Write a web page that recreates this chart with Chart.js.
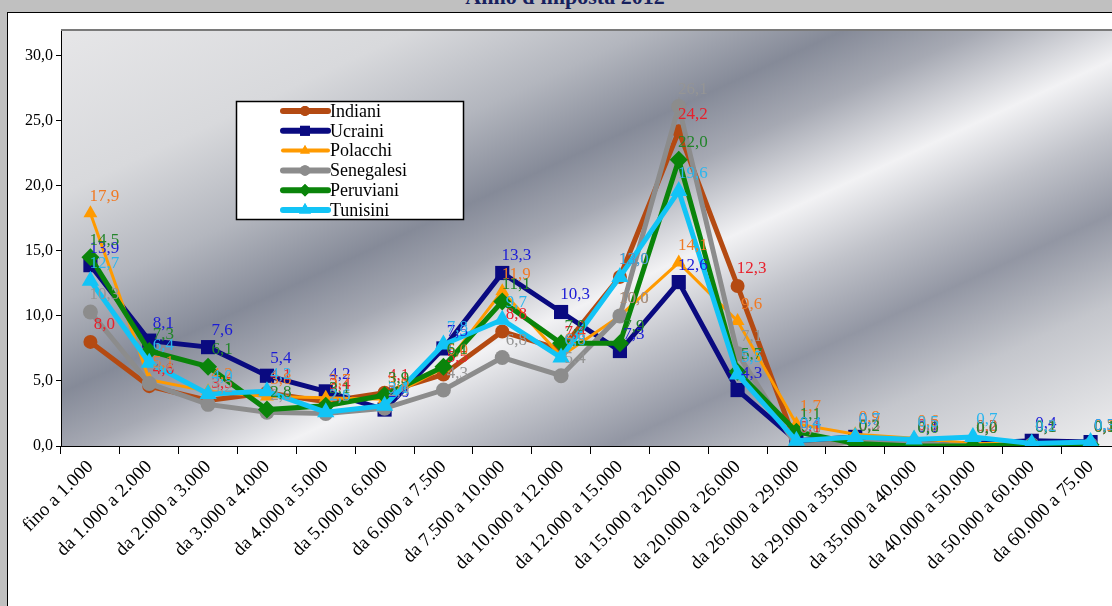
<!DOCTYPE html>
<html>
<head>
<meta charset="utf-8">
<script src="https://cdn.jsdelivr.net/npm/chart.js@4"></script>
<style>
  html, body { margin: 0; padding: 0; width: 1112px; height: 606px; overflow: hidden; background: #c0c0c0; }
  #title { position: absolute; left: 0; top: -14px; width: 1130px; text-align: center;
           font: bold 22px "Liberation Serif", serif; color: #17215e; line-height: 22px; }
  #frame { position: absolute; left: 7px; top: 12px; width: 1130px; height: 640px; background: #fff; border: 1px solid #000; }
  #wrap { position: absolute; left: 0; top: 0; }
</style>
</head>
<body>
<div id="title">Anno d'imposta 2012</div>
<div id="frame"></div>
<div id="wrap"><canvas id="chart" width="1130" height="606"></canvas></div>
<script>
// categories (fasce di reddito)
const categories = [
  'fino a 1.000', 'da 1.000 a 2.000', 'da 2.000 a 3.000', 'da 3.000 a 4.000', 'da 4.000 a 5.000',
  'da 5.000 a 6.000', 'da 6.000 a 7.500', 'da 7.500 a 10.000', 'da 10.000 a 12.000', 'da 12.000 a 15.000',
  'da 15.000 a 20.000', 'da 20.000 a 26.000', 'da 26.000 a 29.000', 'da 29.000 a 35.000', 'da 35.000 a 40.000',
  'da 40.000 a 50.000', 'da 50.000 a 60.000', 'da 60.000 a 75.00'
];

const indiani    = [8.0, 4.6, 3.5, 4.1, 3.4, 4.1, 5.5, 8.8, 7.4, 13.0, 24.2, 12.3, 0.1, 0.3, 0.3, 0.0, 0.1, 0.1];
const ucraini    = [13.9, 8.1, 7.6, 5.4, 4.2, 2.8, 7.5, 13.3, 10.3, 7.3, 12.6, 4.3, 0.4, 0.7, 0.1, 0.2, 0.4, 0.3];
const polacchi   = [17.9, 5.1, 4.2, 3.8, 3.7, 3.6, 6.0, 11.9, 6.9, 10.0, 14.1, 9.6, 1.7, 0.9, 0.6, 0.2, 0.2, 0.2];
const senegalesi = [10.3, 4.8, 3.2, 2.6, 2.5, 2.9, 4.3, 6.8, 5.4, 10.0, 26.1, 7.1, 0.0, 0.3, 0.2, 0.0, 0.1, 0.1];
const peruviani  = [14.5, 7.3, 6.1, 2.8, 3.1, 3.9, 6.1, 11.1, 7.9, 7.9, 22.0, 5.7, 1.1, 0.2, 0.0, 0.0, 0.1, 0.1];
const tunisini   = [12.7, 6.4, 4.0, 4.2, 2.6, 3.1, 7.8, 9.7, 6.8, 13.0, 19.6, 5.5, 0.4, 0.7, 0.5, 0.7, 0.2, 0.3];

const seriesNames = ['Indiani', 'Ucraini', 'Polacchi', 'Senegalesi', 'Peruviani', 'Tunisini'];
const seriesData  = [indiani, ucraini, polacchi, senegalesi, peruviani, tunisini];

const yTicks = [0, 5, 10, 15, 20, 25, 30];

// styling
const lineColors  = ['#b44a12', '#0a0a80', '#ff9a00', '#8c8c8c', '#0a840a', '#12c4f6'];
const labelColors = ['#e8202c', '#1c1cd6', '#f07a24', '#959595', '#22852a', '#2cb6ee'];
const markers     = ['circle', 'rect', 'triangle', 'circle', 'rectRot', 'triangle'];
const markerSize  = [7, 10, 8, 7.5, 9, 10];
const lineWidths  = [5, 5, 3, 5, 5, 5];
const serif = '"Liberation Serif", "Times New Roman", serif';

const fmt = v => v.toFixed(1).replace('.', ',');

// metallic background of the plot area
const metalBg = {
  id: 'metalBg',
  beforeDraw(chart) {
    const { ctx, chartArea: a } = chart;
    const g = ctx.createLinearGradient(a.left, a.top, a.left + 345, a.top + 745);
    g.addColorStop(0.00, '#e6e6e8');
    g.addColorStop(0.18, '#d8d9dc');
    g.addColorStop(0.30, '#b3b6be');
    g.addColorStop(0.40, '#858a98');
    g.addColorStop(0.47, '#a6a9b3');
    g.addColorStop(0.57, '#f2f2f4');
    g.addColorStop(0.65, '#c1c3ca');
    g.addColorStop(0.74, '#9296a3');
    g.addColorStop(0.84, '#c4c6cc');
    g.addColorStop(1.00, '#efeff0');
    ctx.save();
    ctx.fillStyle = g;
    ctx.fillRect(a.left, a.top, a.right - a.left, a.bottom - a.top);
    ctx.fillStyle = '#7a7a7a';
    ctx.fillRect(a.left, a.top - 2, a.right - a.left, 2);
    ctx.restore();
  }
};

// value labels next to each point
const valueLabels = {
  id: 'valueLabels',
  afterDatasetsDraw(chart) {
    const ctx = chart.ctx;
    ctx.save();
    ctx.font = '17px ' + serif;
    ctx.textAlign = 'center';
    ctx.textBaseline = 'middle';
    chart.data.datasets.forEach((ds, i) => {
      const meta = chart.getDatasetMeta(i);
      meta.data.forEach((pt, j) => {
        ctx.fillStyle = labelColors[i];
        ctx.fillText(fmt(ds.data[j]), pt.x + 14, pt.y - 17);
      });
    });
    ctx.restore();
  }
};

// boxed legend inside the plot
const boxLegend = {
  id: 'boxLegend',
  afterDraw(chart) {
    const ctx = chart.ctx;
    const x0 = 236, y0 = 101, w = 227, h = 118;
    ctx.save();
    ctx.fillStyle = '#fff';
    ctx.fillRect(x0, y0, w, h);
    ctx.strokeStyle = '#000';
    ctx.lineWidth = 1.5;
    ctx.strokeRect(x0 + 0.5, y0 + 0.5, w, h);
    ctx.font = '18px ' + serif;
    ctx.textBaseline = 'middle';
    seriesNames.forEach((name, i) => {
      const y = y0 + 10 + i * 19.8;
      ctx.strokeStyle = lineColors[i];
      ctx.lineWidth = lineWidths[i] + 1;
      ctx.lineCap = 'round';
      ctx.beginPath();
      ctx.moveTo(283, y);
      ctx.lineTo(328, y);
      ctx.stroke();
      ctx.fillStyle = lineColors[i];
      Chart.helpers.drawPoint(ctx, { pointStyle: markers[i], radius: markerSize[i] * 0.7, rotation: 0, borderWidth: 0 }, 305, y);
      ctx.fill();
      ctx.fillStyle = '#000';
      ctx.fillText(name, 330, y + 1);
    });
    ctx.restore();
  }
};

const datasets = seriesNames.map((name, i) => ({
  label: name,
  data: seriesData[i],
  borderColor: lineColors[i],
  backgroundColor: lineColors[i],
  borderWidth: lineWidths[i],
  pointStyle: markers[i],
  pointRadius: markerSize[i],
  pointBorderWidth: 0,
  pointBackgroundColor: lineColors[i],
  tension: 0,
  fill: false,
  order: seriesNames.length - i   // later series drawn on top, as in the original
}));

new Chart(document.getElementById('chart'), {
  type: 'line',
  data: { labels: categories, datasets: datasets },
  options: {
    responsive: false,
    animation: false,
    devicePixelRatio: 1,
    layout: { padding: { left: 0, top: 31, right: 9, bottom: 0 } },
    plugins: { legend: { display: false }, tooltip: { enabled: false } },
    scales: {
      x: {
        offset: true,
        grid: { offset: true, drawOnChartArea: false, tickLength: 8, color: '#000' },
        border: { color: '#000', width: 1 },
        ticks: { autoSkip: false, maxRotation: 45, minRotation: 45, color: '#000', padding: 2,
                 font: { family: serif, size: 19 } },
        afterFit(s) { s.height = 160; s.paddingLeft = 0; s.paddingRight = 0; }
      },
      y: {
        min: 0,
        max: 31.9,
        afterBuildTicks(s) { s.ticks = yTicks.map(v => ({ value: v })); },
        grid: { drawOnChartArea: false, tickLength: 5, color: '#000' },
        border: { color: '#000', width: 1 },
        ticks: { color: '#000', padding: 3, font: { family: serif, size: 16 }, callback: v => fmt(v) },
        afterFit(s) { s.width = 61; }
      }
    }
  },
  plugins: [metalBg, valueLabels, boxLegend]
});
</script>
</body>
</html>
